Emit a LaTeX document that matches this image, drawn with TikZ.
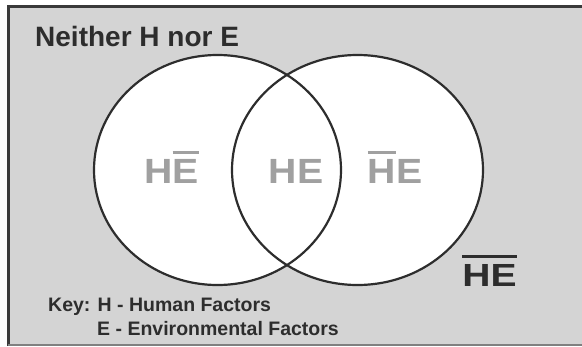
\documentclass[tikz,border=0pt]{standalone}
\usepackage{fontspec}
\usepackage{graphicx}
\setmainfont{Liberation Sans}
\definecolor{bggrey}{RGB}{212,212,212}
\definecolor{framegrey}{RGB}{58,58,58}
\definecolor{inkdark}{RGB}{45,45,45}
\definecolor{labgrey}{RGB}{160,160,160}
\newcommand\barred[3]{\leavevmode\vbox{\hrule height #2\kern #3\hbox{#1}}}
\tikzset{
  setcircle/.style={line width=2.2pt, draw=inkdark},
  greylab/.style={text=labgrey, font=\fontsize{35}{40}\selectfont\bfseries, inner sep=0pt, anchor=base},
  darklab/.style={text=inkdark, font=\fontsize{32}{38}\selectfont\bfseries, inner sep=0pt, anchor=base},
  titletext/.style={text=inkdark, font=\fontsize{28}{32}\selectfont\bfseries, inner sep=0pt, anchor=base west},
  keytext/.style={text=inkdark, font=\fontsize{19.5}{23}\selectfont\bfseries, inner sep=0pt, anchor=base west},
}
\begin{document}
\begin{tikzpicture}[x=1pt,y=-1pt]
\useasboundingbox (0,0) rectangle (582,346);
\fill[white] (0,0) rectangle (582,346);
\fill[bggrey] (8,7) rectangle (582,346);
\draw[framegrey, line width=3pt] (8,346) -- (8,6.5) -- (582,6.5);
\draw[gray, line width=1.5pt] (8,345) -- (582,345);
% circles
\fill[white] (217.5,170) ellipse [x radius=123.5, y radius=115];
\fill[white] (357.5,170) ellipse [x radius=125.5, y radius=115];
\draw[setcircle] (217.5,170) ellipse [x radius=123.5, y radius=115];
\draw[setcircle] (357.5,170) ellipse [x radius=125.5, y radius=115];
% labels
\node[titletext] (title) at (35,46) {Neither H nor E};
\node[greylab] (hnotE) at (171.5,183) {\scalebox{1.12}[1]{H\barred{E}{0.085em}{0.13em}}};
\node[greylab] (hE) at (296,183) {\scalebox{1.12}[1]{HE}};
\node[greylab] (notHe) at (395,183) {\scalebox{1.12}[1]{\barred{H}{0.085em}{0.13em}E}};
\node[darklab] (neither) at (489.5,286) {\scalebox{1.22}[1]{\barred{HE}{0.09em}{0.2em}}};
\node[keytext] (key1) at (48,311) {Key: H - Human Factors};
\node[keytext] (key2) at (97,335) {E - Environmental Factors};
\end{tikzpicture}
\end{document}
